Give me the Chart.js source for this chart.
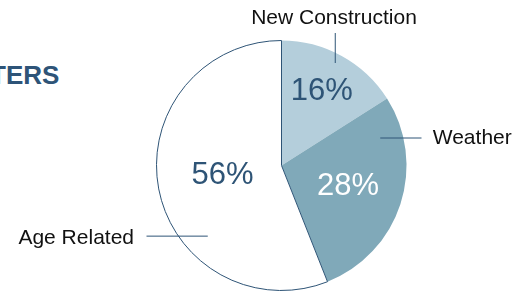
<!DOCTYPE html>
<html>
<head>
<meta charset="utf-8">
<script src="https://cdn.jsdelivr.net/npm/chart.js@4.4.0/dist/chart.umd.min.js"></script>
<style>
  html, body { margin: 0; padding: 0; background: #fff; overflow: hidden; }
  #wrap { position: relative; width: 521px; height: 292px; }
  #title {
    position: absolute; left: -10px; top: 60px;
    font: bold 26px "Liberation Sans", Arial, sans-serif;
    color: #2e5478; white-space: nowrap;
  }
  canvas { position: absolute; left: 0; top: 0; }
</style>
</head>
<body>
<div id="wrap">
  <div id="title">TERS</div>
  <canvas id="pieChart" width="521" height="292"></canvas>
</div>
<script>
const categories = ['New Construction', 'Weather', 'Age Related'];
const shares = [16, 28, 56];
const sliceColors = ['#b4cedb', '#80a9b9', '#ffffff'];
const pctColors = ['#2e5476', '#ffffff', '#2e5476'];

// where each % label sits along its slice's middle ray (fraction of radius)
const pctRadius = [0.67, 0.56, 0.48];

// callouts, offsets in units of the radius from the pie centre
const callouts = [
  { line: [[0.43, -1.06], [0.43, -0.82]], text: [0.42, -1.18], align: 'center' },
  { line: [[0.79, -0.22], [1.12, -0.22]], text: [1.21, -0.22], align: 'left' },
  { line: [[-1.08, 0.565], [-0.59, 0.565]], text: [-1.18, 0.58], align: 'right' },
];

const labelPlugin = {
  id: 'pieLabels',
  afterDatasetsDraw(chart) {
    const ctx = chart.ctx;
    const arcs = chart.getDatasetMeta(0).data;
    ctx.save();
    arcs.forEach((arc, i) => {
      const { x, y, startAngle, endAngle, outerRadius: r } = arc.getProps(['x', 'y', 'startAngle', 'endAngle', 'outerRadius'], true);
      const mid = (startAngle + endAngle) / 2;
      const pr = r * pctRadius[i];
      ctx.font = '31px "Liberation Sans", Arial, sans-serif';
      ctx.fillStyle = pctColors[i];
      ctx.textAlign = 'center';
      ctx.textBaseline = 'middle';
      ctx.fillText(shares[i] + '%', x + Math.cos(mid) * pr, y + Math.sin(mid) * pr - 1);

      const c = callouts[i];
      ctx.strokeStyle = '#2e5476';
      ctx.lineWidth = 1;
      ctx.beginPath();
      ctx.moveTo(x + c.line[0][0] * r, y + c.line[0][1] * r);
      ctx.lineTo(x + c.line[1][0] * r, y + c.line[1][1] * r);
      ctx.stroke();

      ctx.font = '21px "Liberation Sans", Arial, sans-serif';
      ctx.fillStyle = '#111111';
      ctx.textAlign = c.align;
      ctx.fillText(categories[i], x + c.text[0] * r, y + c.text[1] * r);
    });
    ctx.restore();
  }
};

new Chart(document.getElementById('pieChart'), {
  type: 'pie',
  data: {
    labels: categories,
    datasets: [{
      data: shares,
      backgroundColor: sliceColors,
      borderColor: ['#2e5476', '#2e5476', '#2e5476'],
      borderWidth: [0, 0, 1],
    }]
  },
  options: {
    responsive: false,
    animation: false,
    layout: { padding: { top: 40, bottom: 1, left: 156, right: 114 } },
    plugins: { legend: { display: false }, tooltip: { enabled: false } },
  },
  plugins: [labelPlugin]
});
</script>
</body>
</html>
